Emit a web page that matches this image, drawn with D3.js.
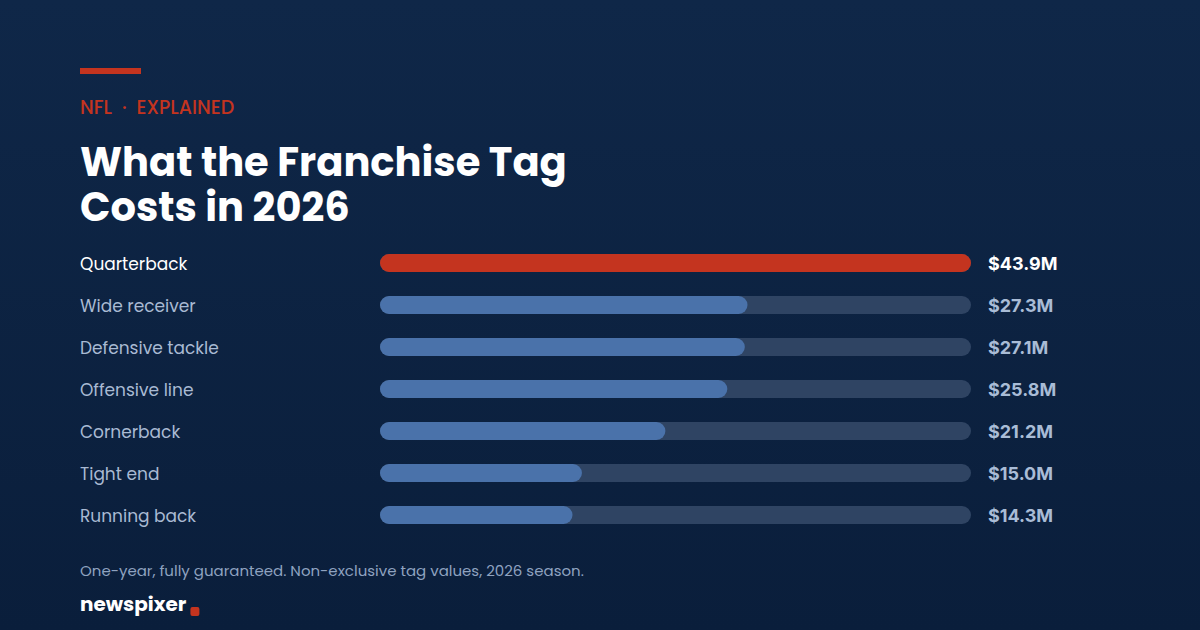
<!DOCTYPE html>
<html><head><meta charset="utf-8">
<script src="https://cdn.jsdelivr.net/npm/d3@7"></script>
<style>
html,body{margin:0;padding:0;background:#0b2040;}
svg{display:block;}
</style></head>
<body>
<svg id="chart" width="1200" height="630"></svg>
<script>
const positions = ["Quarterback","Wide receiver","Defensive tackle","Offensive line","Cornerback","Tight end","Running back"];
const values = [43.9,27.3,27.1,25.8,21.2,15.0,14.3];
const valueLabels = ["$43.9M","$27.3M","$27.1M","$25.8M","$21.2M","$15.0M","$14.3M"];
const kicker = ["NFL","·","EXPLAINED"];
const titleLines = ["What the Franchise Tag","Costs in 2026"];
const footnote = "One-year, fully guaranteed. Non-exclusive tag values, 2026 season.";
const brand = "newspixer";

const svg = d3.select("#chart");
const defs = svg.append("defs");
const grad = defs.append("linearGradient").attr("id","bg").attr("x1",0).attr("y1",0).attr("x2",0).attr("y2",1);
grad.append("stop").attr("offset","0%").attr("stop-color","#0f2748");
grad.append("stop").attr("offset","100%").attr("stop-color","#0a1e3b");
svg.append("rect").attr("width",1200).attr("height",630).attr("fill","url(#bg)");

const font = "Poppins, 'Open Sans', 'Noto Sans', sans-serif";
// accent bar
svg.append("rect").attr("x",80).attr("y",68).attr("width",61).attr("height",6).attr("fill","#c4341f");
// kicker
const k = svg.append("text").attr("x",80).attr("y",114).attr("fill","#c4341f")
  .attr("font-family",font).attr("font-size",19).attr("font-weight",500);
k.append("tspan").text(kicker[0]);
k.append("tspan").attr("dx",10).text(kicker[1]);
k.append("tspan").attr("dx",10).text(kicker[2]);
// title
svg.selectAll("text.title").data(titleLines).join("text").attr("class","title")
  .attr("x",80).attr("y",(d,i)=>176+i*45)
  .attr("fill","#ffffff").attr("font-family",font).attr("font-weight",700)
  .attr("font-size",40).text(d=>d);

const x = d3.scaleLinear().domain([0,43.9]).range([380,971]);
const y = d3.scaleBand().domain(positions).range([242,536]).paddingInner(0.5714).paddingOuter(0.2857);
const bh = 18;

const rows = svg.selectAll("g.row").data(positions).join("g").attr("class","row");
rows.append("text").attr("x",80).attr("y",d=>y(d)+y.bandwidth()/2+1)
  .attr("dy","0.35em").attr("font-family",font).attr("font-size",17)
  .attr("fill",(d,i)=>i===0?"#ffffff":"#a9bad3").text(d=>d);
rows.append("rect").attr("x",x(0)).attr("y",d=>y(d)+y.bandwidth()/2-bh/2)
  .attr("width",x(43.9)-x(0)).attr("height",bh).attr("rx",bh/2)
  .attr("fill","#2f4463");
rows.append("rect").attr("x",x(0)).attr("y",d=>y(d)+y.bandwidth()/2-bh/2)
  .attr("width",(d,i)=>x(values[i])-x(0)).attr("height",bh).attr("rx",bh/2)
  .attr("fill",(d,i)=>i===0?"#c4341f":"#4a72aa");
rows.append("text").attr("x",988).attr("y",d=>y(d)+y.bandwidth()/2+1)
  .attr("dy","0.36em").attr("font-family","Inter, Roboto, sans-serif")
  .attr("font-weight",700).attr("font-size",18)
  .attr("fill",(d,i)=>i===0?"#ffffff":"#a9bcd6").text((d,i)=>valueLabels[i]);

svg.append("text").attr("x",80).attr("y",576).attr("font-family",font).attr("font-size",15)
  .attr("fill","#8fa3c0").text(footnote);
const b = svg.append("text").attr("x",80).attr("y",611).attr("font-family",font)
  .attr("font-weight",700).attr("font-size",20).attr("fill","#ffffff").text(brand);
const bw = b.node().getComputedTextLength();
svg.append("rect").attr("x",80+bw+4).attr("y",607).attr("width",9).attr("height",9).attr("rx",2).attr("fill","#c4341f");
</script>
</body></html>
